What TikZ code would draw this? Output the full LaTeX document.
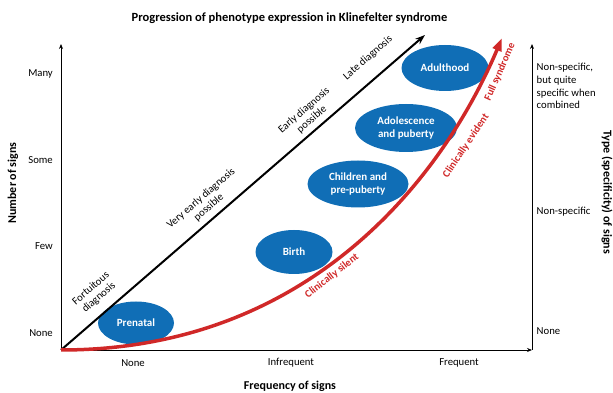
\documentclass[tikz,border=0pt]{standalone}
\usepackage{fontspec}
\setmainfont{Carlito}
\usetikzlibrary{arrows.meta,shapes.geometric}
\definecolor{stageblue}{RGB}{16,110,182}
\definecolor{curvered}{RGB}{208,40,40}
\begin{document}
\begin{tikzpicture}[x=1pt,y=1pt,
  stage/.style={ellipse, fill=stageblue, text=white, font=\fontsize{11}{12.5}\selectfont\bfseries, align=center, inner sep=0pt},
  lbl/.style={font=\fontsize{10.7}{12.7}\selectfont, align=center, inner sep=0pt},
  rlbl/.style={font=\fontsize{10.7}{12.7}\selectfont, align=left, inner sep=0pt, anchor=west},
  axtitle/.style={font=\fontsize{12}{14}\selectfont\bfseries, inner sep=0pt},
  diag/.style={font=\fontsize{10.7}{12}\selectfont, align=center, inner sep=0pt, rotate=41},
  redlbl/.style={font=\fontsize{10.5}{12}\selectfont\bfseries, text=curvered, inner sep=0pt},
  axis/.style={line width=0.8pt, -{Stealth[length=5pt,width=4pt]}}
]
\useasboundingbox (0,0) rectangle (613,393);
% key points
\coordinate (O) at (61,43);
\coordinate (ytop) at (61,349);
\coordinate (xend) at (532,43);
\coordinate (rtop) at (532,349);
\coordinate (btip) at (425,358);
\coordinate (rtip) at (502,355);
% axes
\draw[axis] (O) -- (ytop);
\draw[axis] (O) -- (xend);
\draw[axis] (xend) -- (rtop);
% ellipses
\node[stage, minimum width=76pt, minimum height=43pt] (prenatal) at (136,70) {Prenatal};
\node[stage, minimum width=77pt, minimum height=44pt] (birth) at (294,141) {Birth};
\node[stage, minimum width=101pt, minimum height=47pt] (children) at (358,209) {Children and\\pre-puberty};
\node[stage, minimum width=102pt, minimum height=48pt] (adolescence) at (406,265) {Adolescence\\and puberty};
\node[stage, minimum width=87pt, minimum height=46pt] (adulthood) at (445,325) {Adulthood};
% black diagonal arrow
\draw[line width=2pt, -{Stealth[length=10pt,width=7pt]}] (O) -- (btip);
% red curve
\draw[curvered, line width=3.5pt, -{Triangle[length=13pt,width=9pt]}] (O) .. controls (311,43) and (443.5,217) .. (rtip);
% title
\node[axtitle, font=\fontsize{12.5}{14}\selectfont\bfseries] (title) at (289.5,375) {Progression of phenotype expression in Klinefelter syndrome};
% y labels
\node[lbl, anchor=east] (many) at (53,319) {Many};
\node[lbl, anchor=east] (some) at (53,233) {Some};
\node[lbl, anchor=east] (few) at (53,147) {Few};
\node[lbl, anchor=east] (ynone) at (53,60) {None};
\node[axtitle, rotate=90] (ytitle) at (13,210) {Number of signs};
% x labels
\node[lbl] (xnone) at (133,30) {None};
\node[lbl] (infreq) at (291,30) {Infrequent};
\node[lbl] (freq) at (459,30) {Frequent};
\node[axtitle] (xtitle) at (290,7) {Frequency of signs};
% right labels
\node[rlbl] (combined) at (536.5,307) {Non-specific,\\but quite\\specific when\\combined};
\node[rlbl] (nonspec) at (536.5,181) {Non-specific};
\node[rlbl] (rnone) at (536.5,62) {None};
\node[axtitle, rotate=-90] (rtitle) at (607,201) {Type (specificity) of signs};
% diagonal labels
\node[diag] (fortuitous) at (95,100) {Fortuitous\\diagnosis};
\node[diag] (veryearly) at (205,190) {Very early diagnosis\\possible};
\node[diag] (early) at (308,278) {Early diagnosis\\possible};
\node[diag] (late) at (368,335) {Late diagnosis};
% red labels
\node[redlbl, rotate=38] (silent) at (332,117) {Clinically silent};
\node[redlbl, rotate=56] (evident) at (466,247) {Clinically evident};
\node[redlbl, rotate=66] (full) at (500,321) {Full syndrome};
\end{tikzpicture}
\end{document}
